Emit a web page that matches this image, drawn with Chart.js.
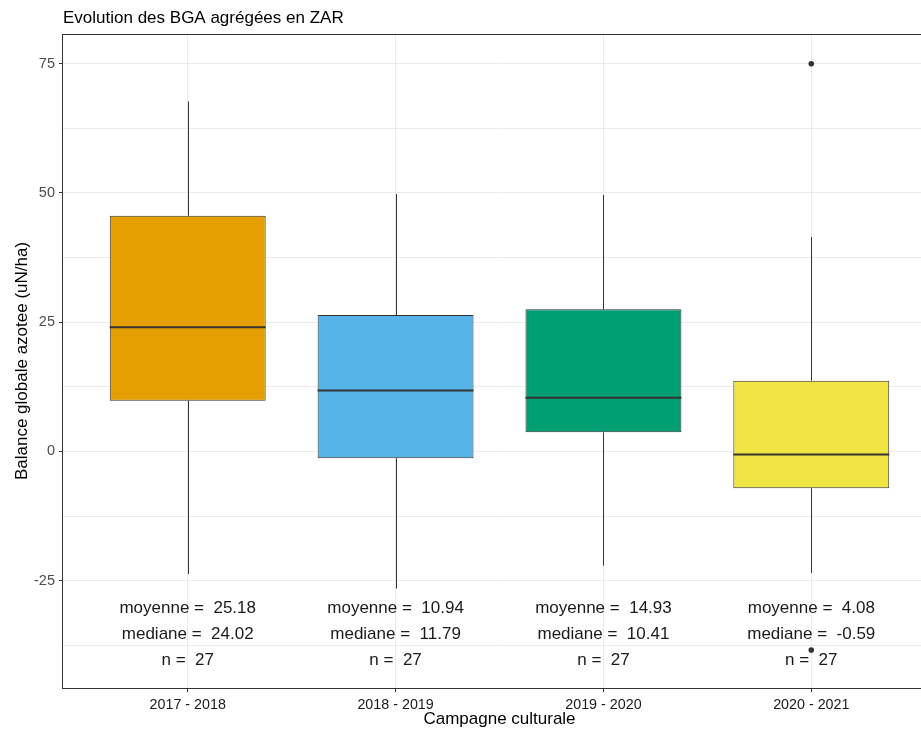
<!DOCTYPE html>
<html>
<head>
<meta charset="utf-8">
<script src="https://cdn.jsdelivr.net/npm/chart.js@4.4.1/dist/chart.umd.min.js"></script>
<style>
  html, body { margin: 0; padding: 0; overflow: hidden; background: #fff; }
  #wrap { position: absolute; left: 0; top: 0; width: 940px; height: 730px; }
</style>
</head>
<body>
<div id="wrap"><canvas id="c"></canvas></div>
<script>
const categories = ['2017 - 2018', '2018 - 2019', '2019 - 2020', '2020 - 2021'];
const whiskerLow = [-23.7, -26.5, -22.1, -23.5];
const q1 = [9.8, -1.3, 3.7, -7.1];
const medians = [24.02, 11.79, 10.41, -0.59];
const q3 = [45.6, 26.4, 27.5, 13.7];
const whiskerHigh = [67.7, 49.8, 49.6, 41.5];
const means = [25.18, 10.94, 14.93, 4.08];
const counts = [27, 27, 27, 27];
const outlierCat = [4, 4];
const outlierVal = [75.0, -38.4];
const yTicks = [-37.5, -25, -12.5, 0, 12.5, 25, 37.5, 50, 62.5, 75];
const labelRows = [-30, -35, -40];
const colors = ['#E69F00', '#56B4E9', '#009E73', '#F0E442'];

const FONT = "'Liberation Sans', Arial, sans-serif";

const extras = {
  id: 'extras',
  afterDatasetsDraw(chart) {
    const ctx = chart.ctx;
    const y = chart.scales.y;
    const meta = chart.getDatasetMeta(0);
    ctx.save();
    meta.data.forEach((el, i) => {
      const x = Math.round(el.x) + 0.5;
      ctx.strokeStyle = '#333333';
      ctx.lineWidth = 1;
      ctx.beginPath();
      ctx.moveTo(x, y.getPixelForValue(whiskerHigh[i]));
      ctx.lineTo(x, y.getPixelForValue(q3[i]));
      ctx.moveTo(x, y.getPixelForValue(q1[i]));
      ctx.lineTo(x, y.getPixelForValue(whiskerLow[i]));
      ctx.stroke();
      ctx.lineWidth = 2;
      const my = y.getPixelForValue(medians[i]);
      ctx.beginPath();
      ctx.moveTo(el.x - el.width / 2, my);
      ctx.lineTo(el.x + el.width / 2, my);
      ctx.stroke();
    });
    ctx.restore();
  },
  afterDraw(chart) {
    const ctx = chart.ctx;
    const a = chart.chartArea;
    const x = chart.scales.x;
    const y = chart.scales.y;
    ctx.save();
    // panel border
    ctx.strokeStyle = '#333333';
    ctx.lineWidth = 1;
    ctx.strokeRect(a.left - 0.5, a.top + 0.5, a.right - a.left + 0.5, a.bottom - a.top);
    // annotations
    ctx.fillStyle = '#1a1a1a';
    ctx.font = '17px ' + FONT;
    ctx.textAlign = 'center';
    ctx.textBaseline = 'middle';
    categories.forEach((c, i) => {
      const px = x.getPixelForValue(i + 1);
      const lines = [
        'moyenne =  ' + means[i].toFixed(2),
        'mediane =  ' + medians[i].toFixed(2),
        'n =  ' + counts[i]
      ];
      lines.forEach((t, k) => ctx.fillText(t, px, y.getPixelForValue(labelRows[k]) + 2));
    });
    // title
    ctx.fillStyle = '#000000';
    ctx.textAlign = 'left';
    ctx.fillText('Evolution des BGA agrégées en ZAR', a.left, 18);
    ctx.restore();
  }
};

new Chart(document.getElementById('c'), {
  type: 'bar',
  data: {
    datasets: [
      {
        data: categories.map((c, i) => ({ x: i + 1, y: [q1[i], q3[i]] })),
        backgroundColor: colors,
        borderColor: '#333333',
        borderWidth: 1,
        borderSkipped: false,
        barPercentage: 0.75,
        categoryPercentage: 1.0
      },
      {
        type: 'scatter',
        data: outlierCat.map((c, i) => ({ x: c, y: outlierVal[i] })),
        backgroundColor: '#333333',
        borderWidth: 0,
        pointRadius: 2.8
      }
    ]
  },
  options: {
    responsive: true,
    maintainAspectRatio: false,
    animation: false,
    layout: { padding: { top: 34, right: 3, left: 0, bottom: 0 } },
    plugins: { legend: { display: false }, tooltip: { enabled: false }, title: { display: false } },
    scales: {
      x: {
        type: 'linear',
        min: 0.4,
        max: 4.6,
        offset: false,
        afterBuildTicks: (s) => { s.ticks = categories.map((c, i) => ({ value: i + 1 })); },
        afterFit: (s) => { s.height = 42; },
        grid: { offset: false, color: '#ebebeb', lineWidth: 1, tickLength: 4, tickColor: '#333333' },
        border: { display: false },
        ticks: {
          autoSkip: false, maxRotation: 0, padding: 4,
          color: '#1a1a1a', font: { size: 14.3, family: FONT },
          callback: (v) => categories[Math.round(v) - 1]
        },
        title: { display: true, text: 'Campagne culturale', color: '#000000', font: { size: 17, family: FONT }, padding: { top: 0, bottom: 0 } }
      },
      y: {
        min: -45.75,
        max: 80.75,
        afterBuildTicks: (s) => { s.ticks = yTicks.map(v => ({ value: v })); },
        afterFit: (s) => { s.width = 63; },
        grid: {
          color: '#ebebeb', lineWidth: 1, tickLength: 4,
          tickColor: (ctx) => (ctx.tick && ctx.tick.value % 25 === 0) ? '#333333' : 'rgba(0,0,0,0)'
        },
        border: { display: false },
        ticks: {
          padding: 4, color: '#4d4d4d', font: { size: 14.5, family: FONT },
          callback: (v) => (v % 25 === 0 ? String(v) : '')
        },
        title: { display: true, text: 'Balance globale azotee (uN/ha)', color: '#000000', font: { size: 17, family: FONT }, padding: { top: 12, bottom: 0 } }
      }
    }
  },
  plugins: [extras]
});
</script>
</body>
</html>
